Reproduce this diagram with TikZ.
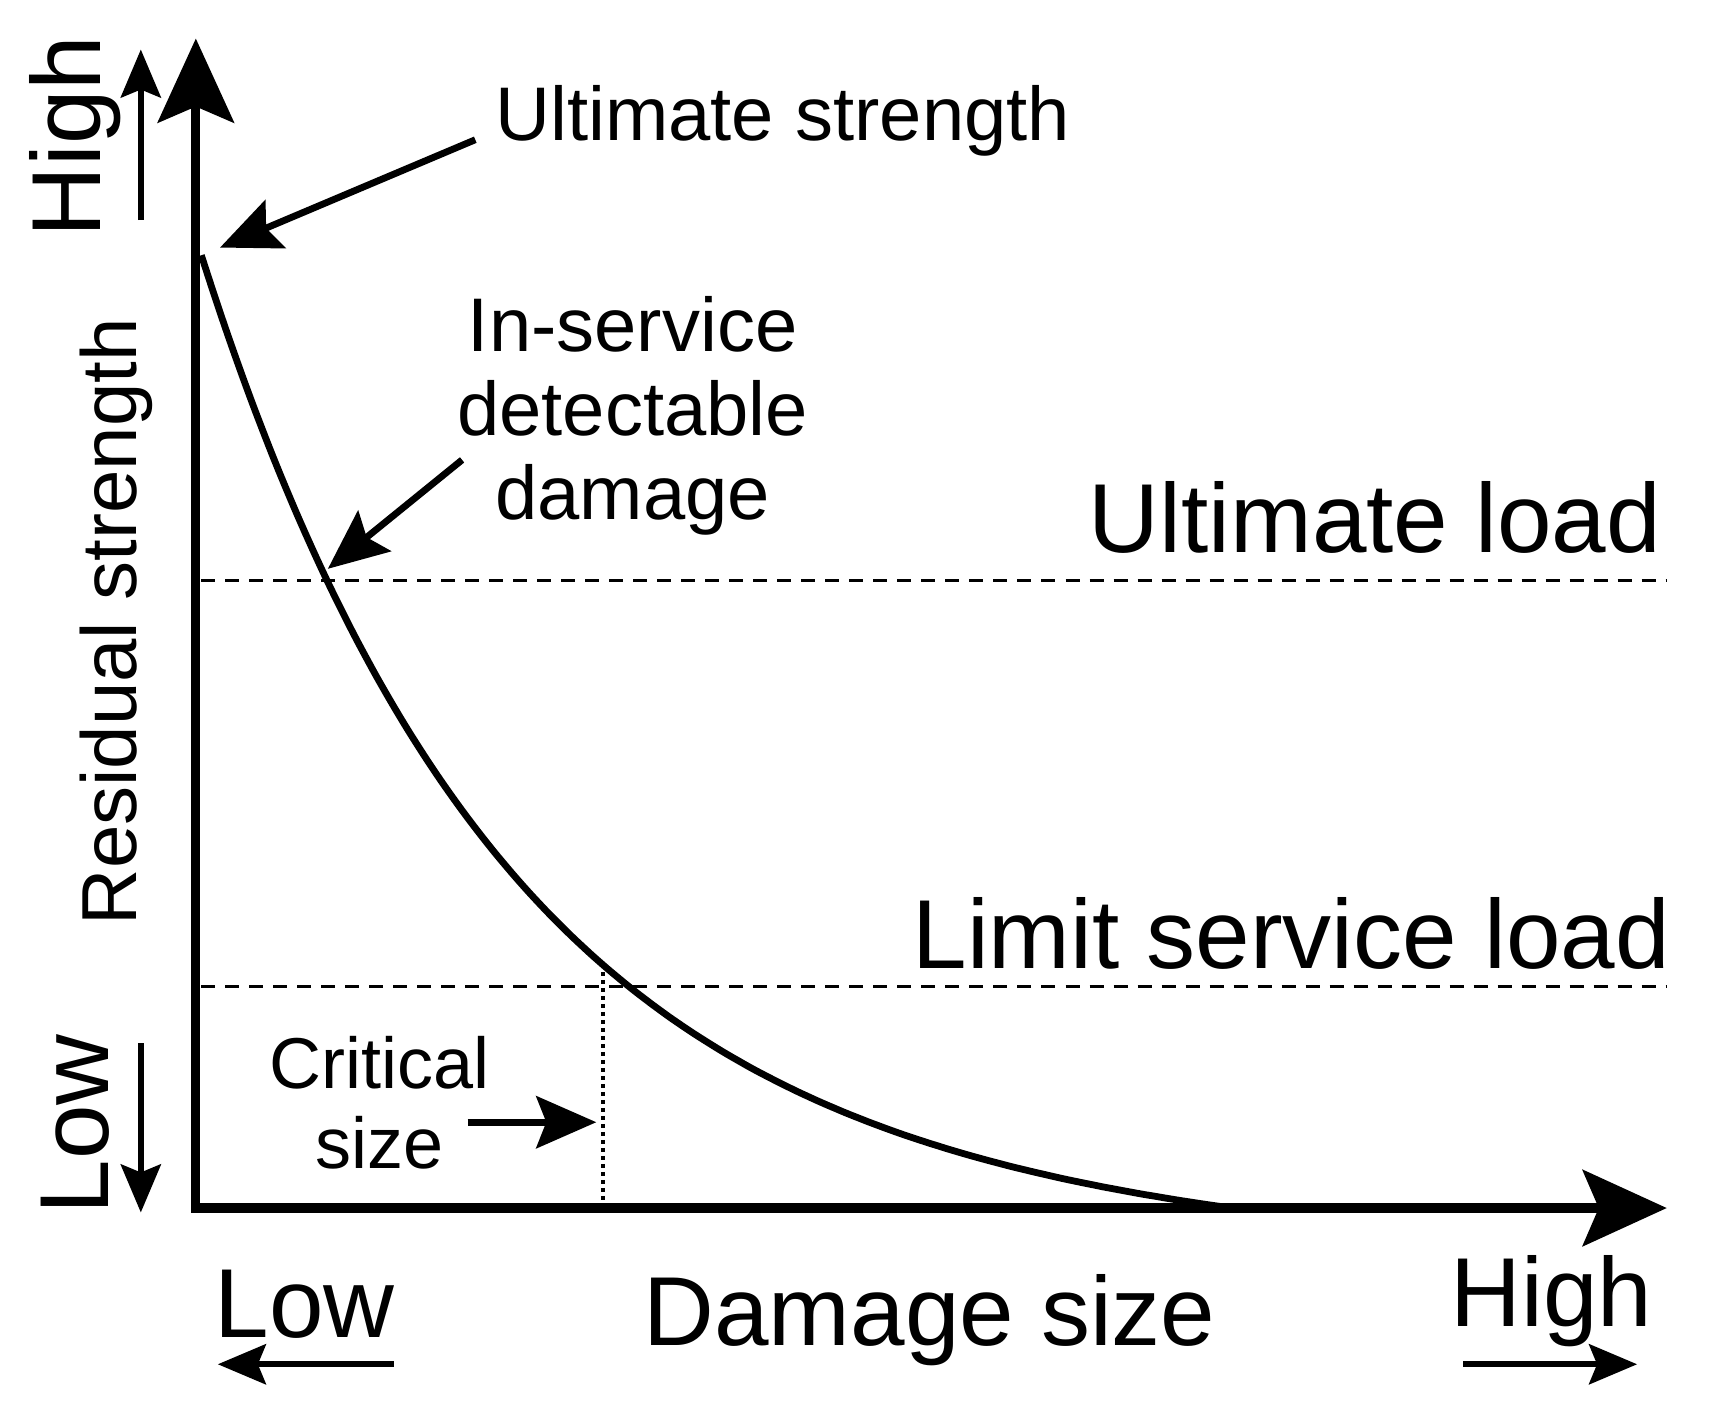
\documentclass[tikz,border=0pt]{standalone}
\usepackage{fontspec}
\setmainfont{Liberation Sans}
\usetikzlibrary{arrows.meta}
\begin{document}
\begin{tikzpicture}[x=0.55pt,y=-0.55pt,
  axis/.style={line width=4.6pt,-{Stealth[length=42pt,width=38pt,inset=8pt]}},
  pt/.style={line width=3.4pt,-{Stealth[length=30pt,width=26pt,inset=5pt]}},
  sm/.style={line width=3pt,-{Stealth[length=24pt,width=20pt,inset=4pt]}},
  lbl/.style={inner sep=0pt,font=\fontsize{38}{42}\selectfont,align=center},
  big/.style={inner sep=0pt,font=\fontsize{49}{52}\selectfont},
  dashln/.style={line width=1.5pt,dash pattern=on 7pt off 5pt}]
\useasboundingbox (0,0) rectangle (1567,1294);
\coordinate (O) at (178,1100);
\coordinate (Ytip) at (178,35);
\coordinate (Xtip) at (1515,1098);
\draw[axis] (178,1100) -- (Ytip);
\draw[axis] (174,1098) -- (Xtip);
% curve
\draw[line width=3.4pt] plot[domain=0:937,samples=120,smooth]
  ({183+\x},{1098-866*(exp(-0.0036*\x)-0.0343*\x/937)});
% dashed
\coordinate (U1) at (183,528); \coordinate (U2) at (1515,528);
\coordinate (L1) at (183,897); \coordinate (L2) at (1515,897);
\draw[dashln] (U1) -- (U2);
\draw[dashln] (L1) -- (L2);
\coordinate (C1) at (548,876); \coordinate (C2) at (548,1096);
\draw[line width=2.4pt,dash pattern=on 2pt off 2pt] (C1) -- (C2);
% labels
\node[lbl,anchor=west] (us) at (450,110) {Ultimate strength};
\coordinate (usA) at (432,127); \coordinate (usB) at (200,225);
\draw[pt] (usA) -- (usB);
\node[lbl] (isd) at (575,378) {In-service\\detectable\\damage};
\coordinate (isA) at (420,418); \coordinate (isB) at (298,517);
\draw[pt] (isA) -- (isB);
\node[big,anchor=east] (ul) at (1510,470) {Ultimate load};
\node[big,anchor=east] (ls) at (1518,848) {Limit service load};
\node[lbl,font=\fontsize{36}{40}\selectfont] (cs) at (345,1002) {Critical\\size};
\coordinate (csA) at (425,1020); \coordinate (csB) at (542,1020);
\draw[pt] (csA) -- (csB);
% left
\node[big,rotate=90] (yh) at (68,124) {High};
\coordinate (yhA) at (128,200); \coordinate (yhB) at (128,45);
\draw[sm] (yhA) -- (yhB);
\node[lbl,rotate=90,font=\fontsize{39}{42}\selectfont] (rs) at (106,565) {Residual strength};
\node[big,rotate=90] (yl) at (68,1022) {Low};
\coordinate (ylA) at (128,948); \coordinate (ylB) at (128,1102);
\draw[sm] (ylA) -- (ylB);
% bottom
\node[big] (xl) at (277,1185) {Low};
\coordinate (xlA) at (358,1240); \coordinate (xlB) at (198,1240);
\draw[sm] (xlA) -- (xlB);
\node[big] (ds) at (845,1200) {Damage size};
\node[big] (xh) at (1410,1183) {High};
\coordinate (xhA) at (1330,1240); \coordinate (xhB) at (1488,1240);
\draw[sm] (xhA) -- (xhB);
\end{tikzpicture}
\end{document}
